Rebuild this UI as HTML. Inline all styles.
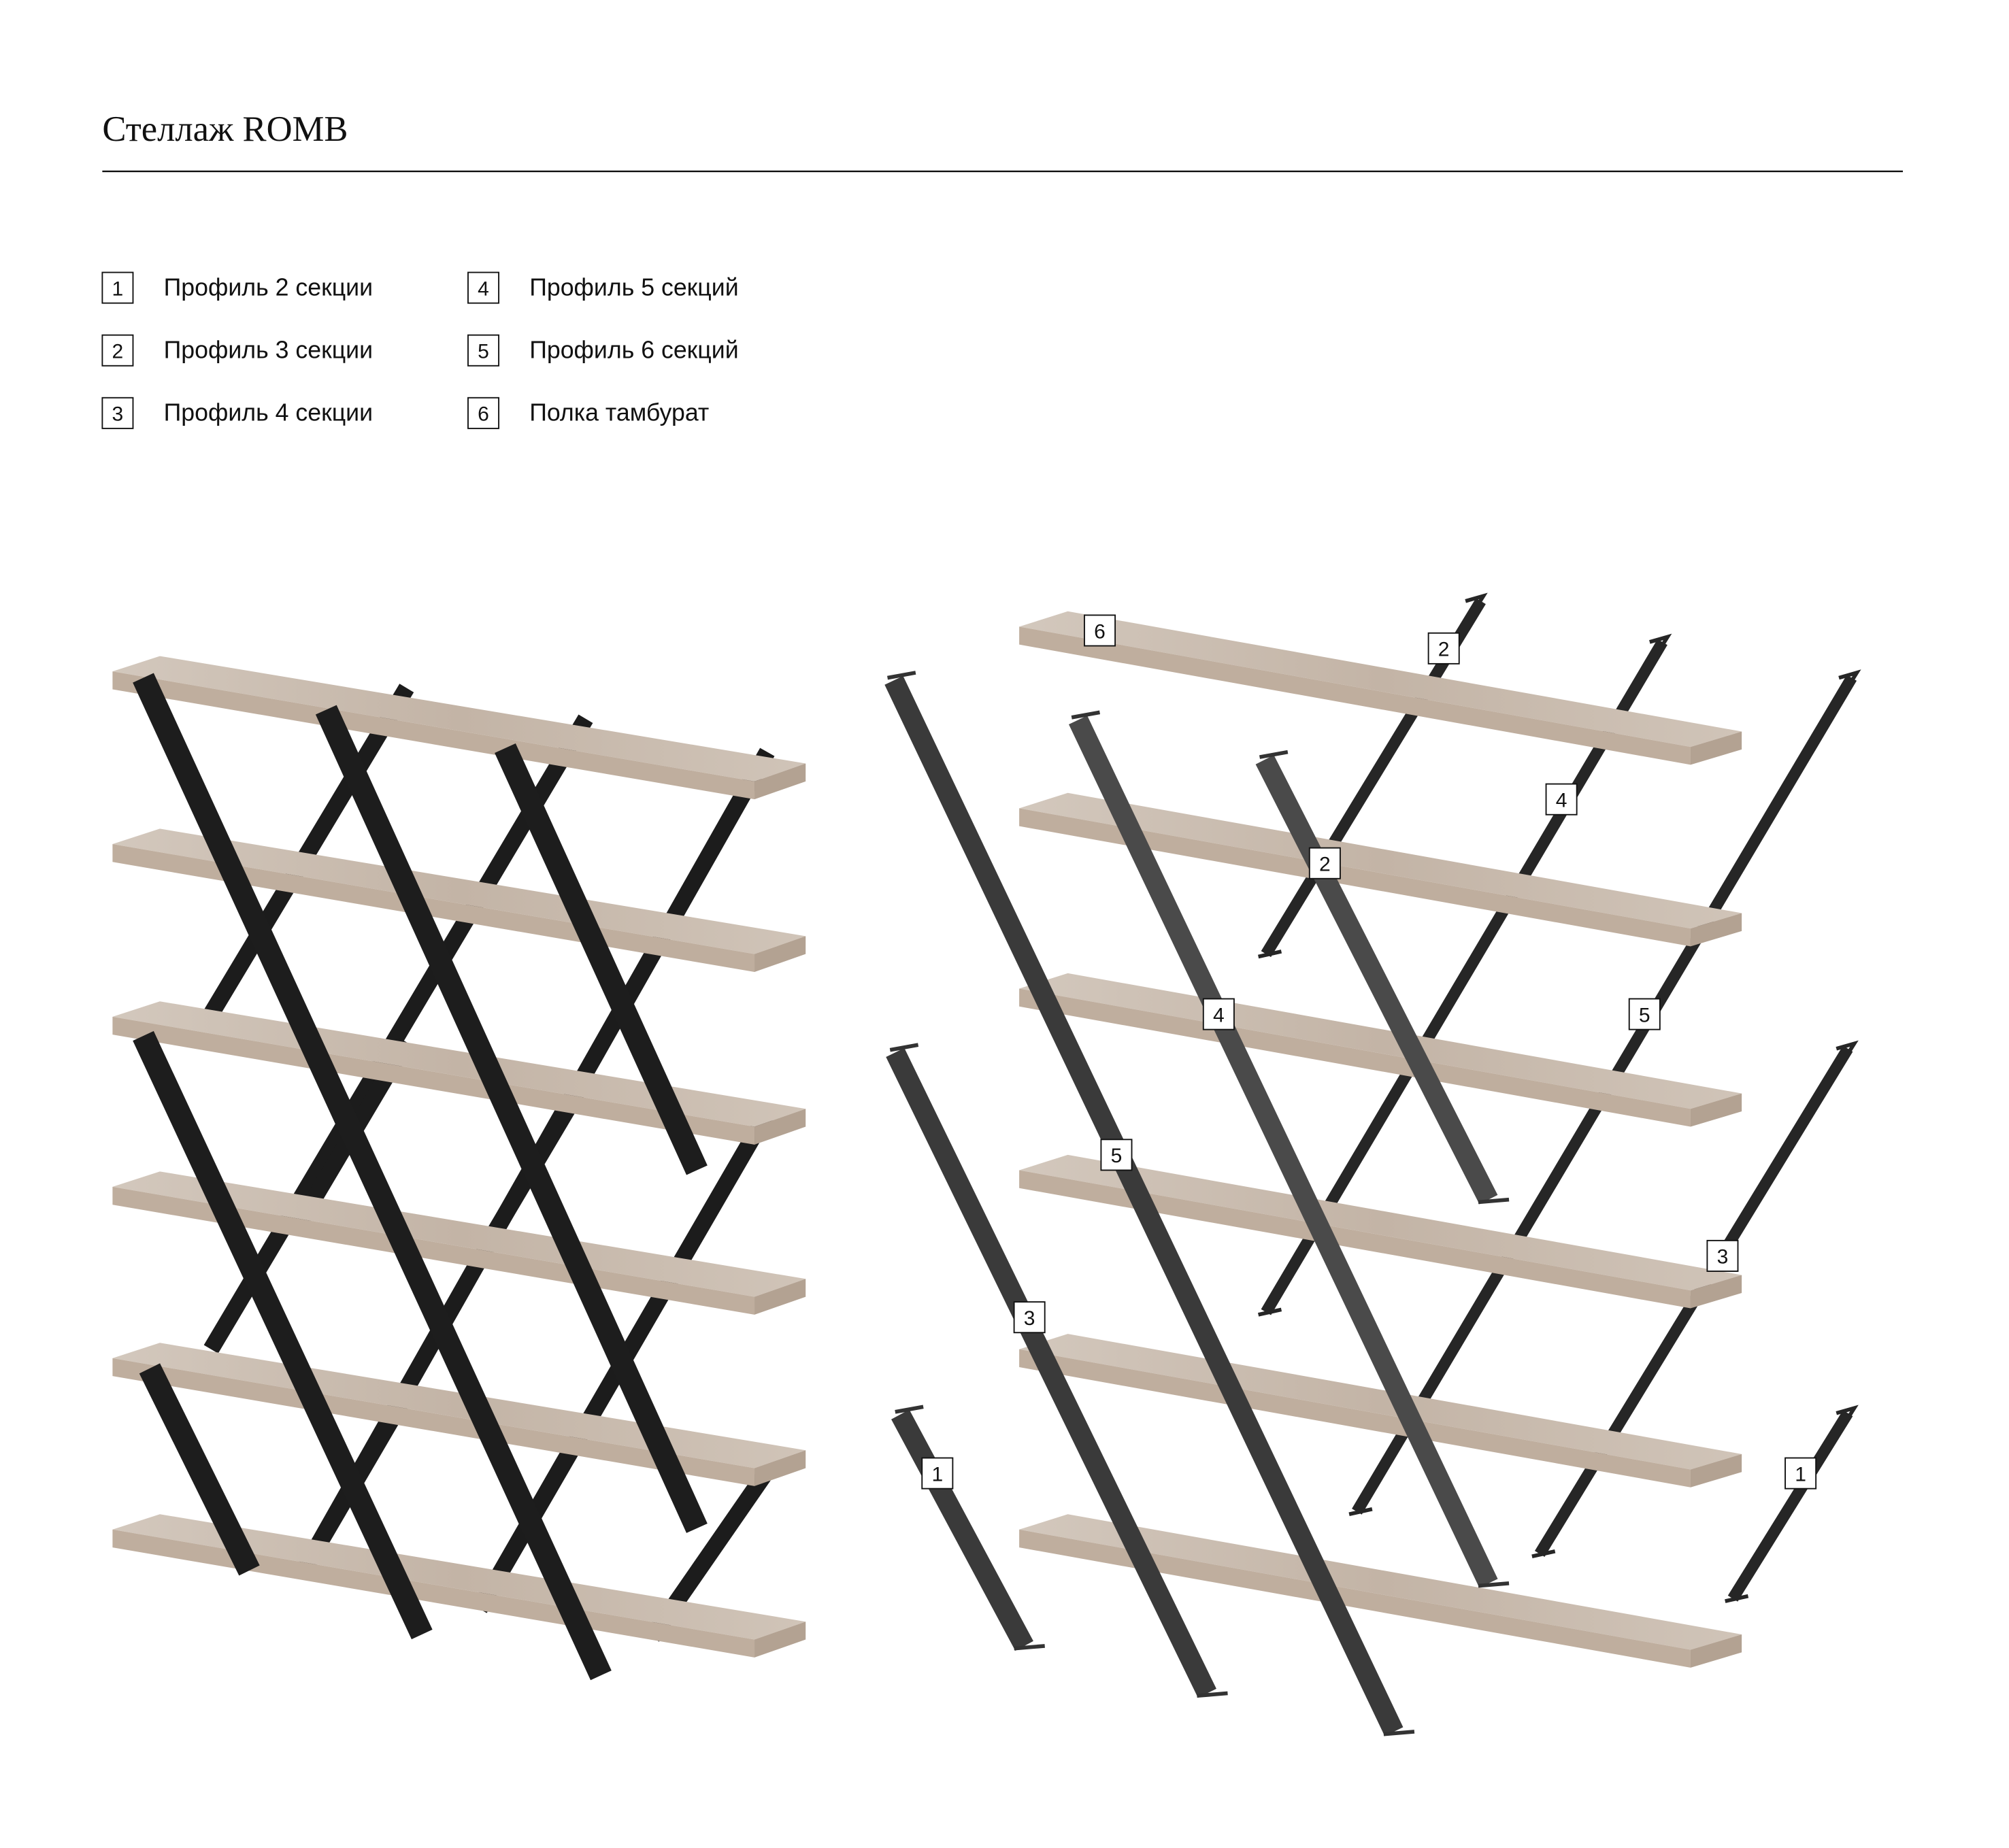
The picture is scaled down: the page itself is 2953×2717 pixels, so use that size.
<!DOCTYPE html>
<html><head><meta charset="utf-8"><style>
html,body{margin:0;padding:0;background:#fff;}
svg{display:block;}
.t{font-family:"Liberation Sans","Noto Sans CJK SC",sans-serif;font-size:19px;fill:#111;}
.n{font-family:"Liberation Sans",sans-serif;font-size:16px;fill:#111;text-anchor:middle;}
</style></head><body>
<svg width="2953" height="2717" viewBox="0 0 1571 1445" preserveAspectRatio="none" xmlns="http://www.w3.org/2000/svg">
<defs>
<linearGradient id="w" x1="0" y1="0" x2="1" y2="0">
<stop offset="0" stop-color="#d3c8bd"/><stop offset="0.5" stop-color="#c3b4a6"/><stop offset="1" stop-color="#d0c4b8"/></linearGradient>
<g id="shelfL">
<polygon points="88,0 125,-12 630,72 590,86" fill="url(#w)"/>
<polygon points="88,0 590,86 590,100 88,14" fill="#bfae9e"/>
<polygon points="590,86 630,72 630,86 590,100" fill="#b3a292"/>
</g>
<g id="shelfR">
<polygon points="797,0 835,-12 1362,82 1322,94" fill="url(#w)"/>
<polygon points="797,0 1322,94 1322,108 797,14" fill="#bfae9e"/>
<polygon points="1322,94 1362,82 1362,96 1322,108" fill="#b3a292"/>
</g>
</defs>
<rect width="1571" height="1445" fill="#fff"/>
<text x="80" y="110" style="font-family:'Liberation Serif',serif;font-size:28px;fill:#111">Стеллаж ROMB</text>
<line x1="80" y1="134" x2="1488" y2="134" stroke="#111" stroke-width="1.3"/>
<g fill="none" stroke="#111" stroke-width="1">
<rect x="80" y="213" width="24" height="24"/><rect x="80" y="262" width="24" height="24"/><rect x="80" y="311" width="24" height="24"/>
<rect x="366" y="213" width="24" height="24"/><rect x="366" y="262" width="24" height="24"/><rect x="366" y="311" width="24" height="24"/>
</g>
<text class="n" x="92" y="231">1</text><text class="n" x="92" y="280">2</text><text class="n" x="92" y="329">3</text>
<text class="n" x="378" y="231">4</text><text class="n" x="378" y="280">5</text><text class="n" x="378" y="329">6</text>
<text class="t" x="128" y="231">Профиль 2 секции</text><text class="t" x="128" y="280">Профиль 3 секции</text><text class="t" x="128" y="329">Профиль 4 секции</text>
<text class="t" x="414" y="231">Профиль 5 секций</text><text class="t" x="414" y="280">Профиль 6 секций</text><text class="t" x="414" y="329">Полка тамбурат</text>

<!-- left assembly back bars -->
<g stroke="#1c1c1c" stroke-width="13">
<line x1="318" y1="538" x2="165" y2="793"/><line x1="458" y1="562" x2="165" y2="1055"/>
<line x1="600" y1="588" x2="235" y2="1232"/><line x1="600" y1="870" x2="375" y2="1258"/>
<line x1="600" y1="1150" x2="510" y2="1280"/>
<line x1="318" y1="815" x2="235" y2="955"/><line x1="460" y1="840" x2="380" y2="975"/>
<line x1="318" y1="1090" x2="235" y2="1232"/><line x1="460" y1="1110" x2="375" y2="1258"/>
</g>
<use href="#shelfL" y="525"/><use href="#shelfL" y="660"/><use href="#shelfL" y="795"/>
<use href="#shelfL" y="928"/><use href="#shelfL" y="1062"/><use href="#shelfL" y="1196"/>
<g stroke="#1d1d1d" stroke-width="18">
<line x1="112" y1="530" x2="470" y2="1310"/><line x1="255" y1="555" x2="545" y2="1195"/>
<line x1="395" y1="585" x2="545" y2="915"/><line x1="112" y1="810" x2="330" y2="1278"/>
<line x1="117" y1="1070" x2="195" y2="1228"/>
</g>

<!-- right: back thin bars -->
<g stroke="#262626" stroke-width="9">
<line x1="1158" y1="470" x2="990" y2="746"/><line x1="1300" y1="502" x2="990" y2="1026"/>
<line x1="1448" y1="530" x2="1061" y2="1182"/><line x1="1445" y1="820" x2="1204" y2="1215"/>
<line x1="1445" y1="1105" x2="1355" y2="1250"/>
</g>
<g stroke="#262626" stroke-width="3" fill="none">
<polyline points="1146,470 1160,466 1150,482"/><polyline points="1290,502 1304,498 1294,514"/>
<polyline points="1438,530 1452,526 1442,542"/><polyline points="1436,820 1450,816 1440,832"/>
<polyline points="1436,1105 1450,1101 1440,1117"/>
<polyline points="984,748 1002,744"/><polyline points="984,1028 1002,1024"/>
<polyline points="1055,1184 1073,1180"/><polyline points="1198,1217 1216,1213"/><polyline points="1349,1252 1367,1248"/>
</g>
<use href="#shelfR" y="490"/><use href="#shelfR" y="632"/><use href="#shelfR" y="773"/>
<use href="#shelfR" y="915"/><use href="#shelfR" y="1055"/><use href="#shelfR" y="1196"/>
<g stroke-width="16">
<line x1="699" y1="532" x2="1090" y2="1354" stroke="#3a3a3a"/>
<line x1="700" y1="823" x2="944" y2="1324" stroke="#3a3a3a"/>
<line x1="843" y1="563" x2="1164" y2="1238" stroke="#4a4a4a"/>
<line x1="989" y1="594" x2="1164" y2="938" stroke="#4a4a4a"/>
<line x1="704" y1="1106" x2="801" y2="1287" stroke="#3a3a3a"/>
</g>
<g stroke="#333" stroke-width="3" fill="none">
<polyline points="694,530 716,526"/><polyline points="696,821 718,817"/><polyline points="838,561 860,557"/>
<polyline points="985,592 1007,588"/><polyline points="700,1104 722,1100"/>
<polyline points="1082,1356 1106,1354"/><polyline points="936,1326 960,1324"/><polyline points="1156,1240 1180,1238"/>
<polyline points="1156,940 1180,938"/><polyline points="793,1289 817,1287"/>
</g>
<g fill="#fff" stroke="#111" stroke-width="1">
<rect x="848" y="481" width="24" height="24"/><rect x="1117" y="495" width="24" height="24"/>
<rect x="1209" y="613" width="24" height="24"/><rect x="1024" y="663" width="24" height="24"/>
<rect x="941" y="781" width="24" height="24"/><rect x="1274" y="781" width="24" height="24"/>
<rect x="861" y="891" width="24" height="24"/><rect x="1335" y="970" width="24" height="24"/>
<rect x="793" y="1018" width="24" height="24"/><rect x="721" y="1140" width="24" height="24"/>
<rect x="1396" y="1140" width="24" height="24"/>
</g>
<text class="n" x="860" y="499">6</text><text class="n" x="1129" y="513">2</text>
<text class="n" x="1221" y="631">4</text><text class="n" x="1036" y="681">2</text>
<text class="n" x="953" y="799">4</text><text class="n" x="1286" y="799">5</text>
<text class="n" x="873" y="909">5</text><text class="n" x="1347" y="988">3</text>
<text class="n" x="805" y="1036">3</text><text class="n" x="733" y="1158">1</text>
<text class="n" x="1408" y="1158">1</text>
</svg>
</body></html>
